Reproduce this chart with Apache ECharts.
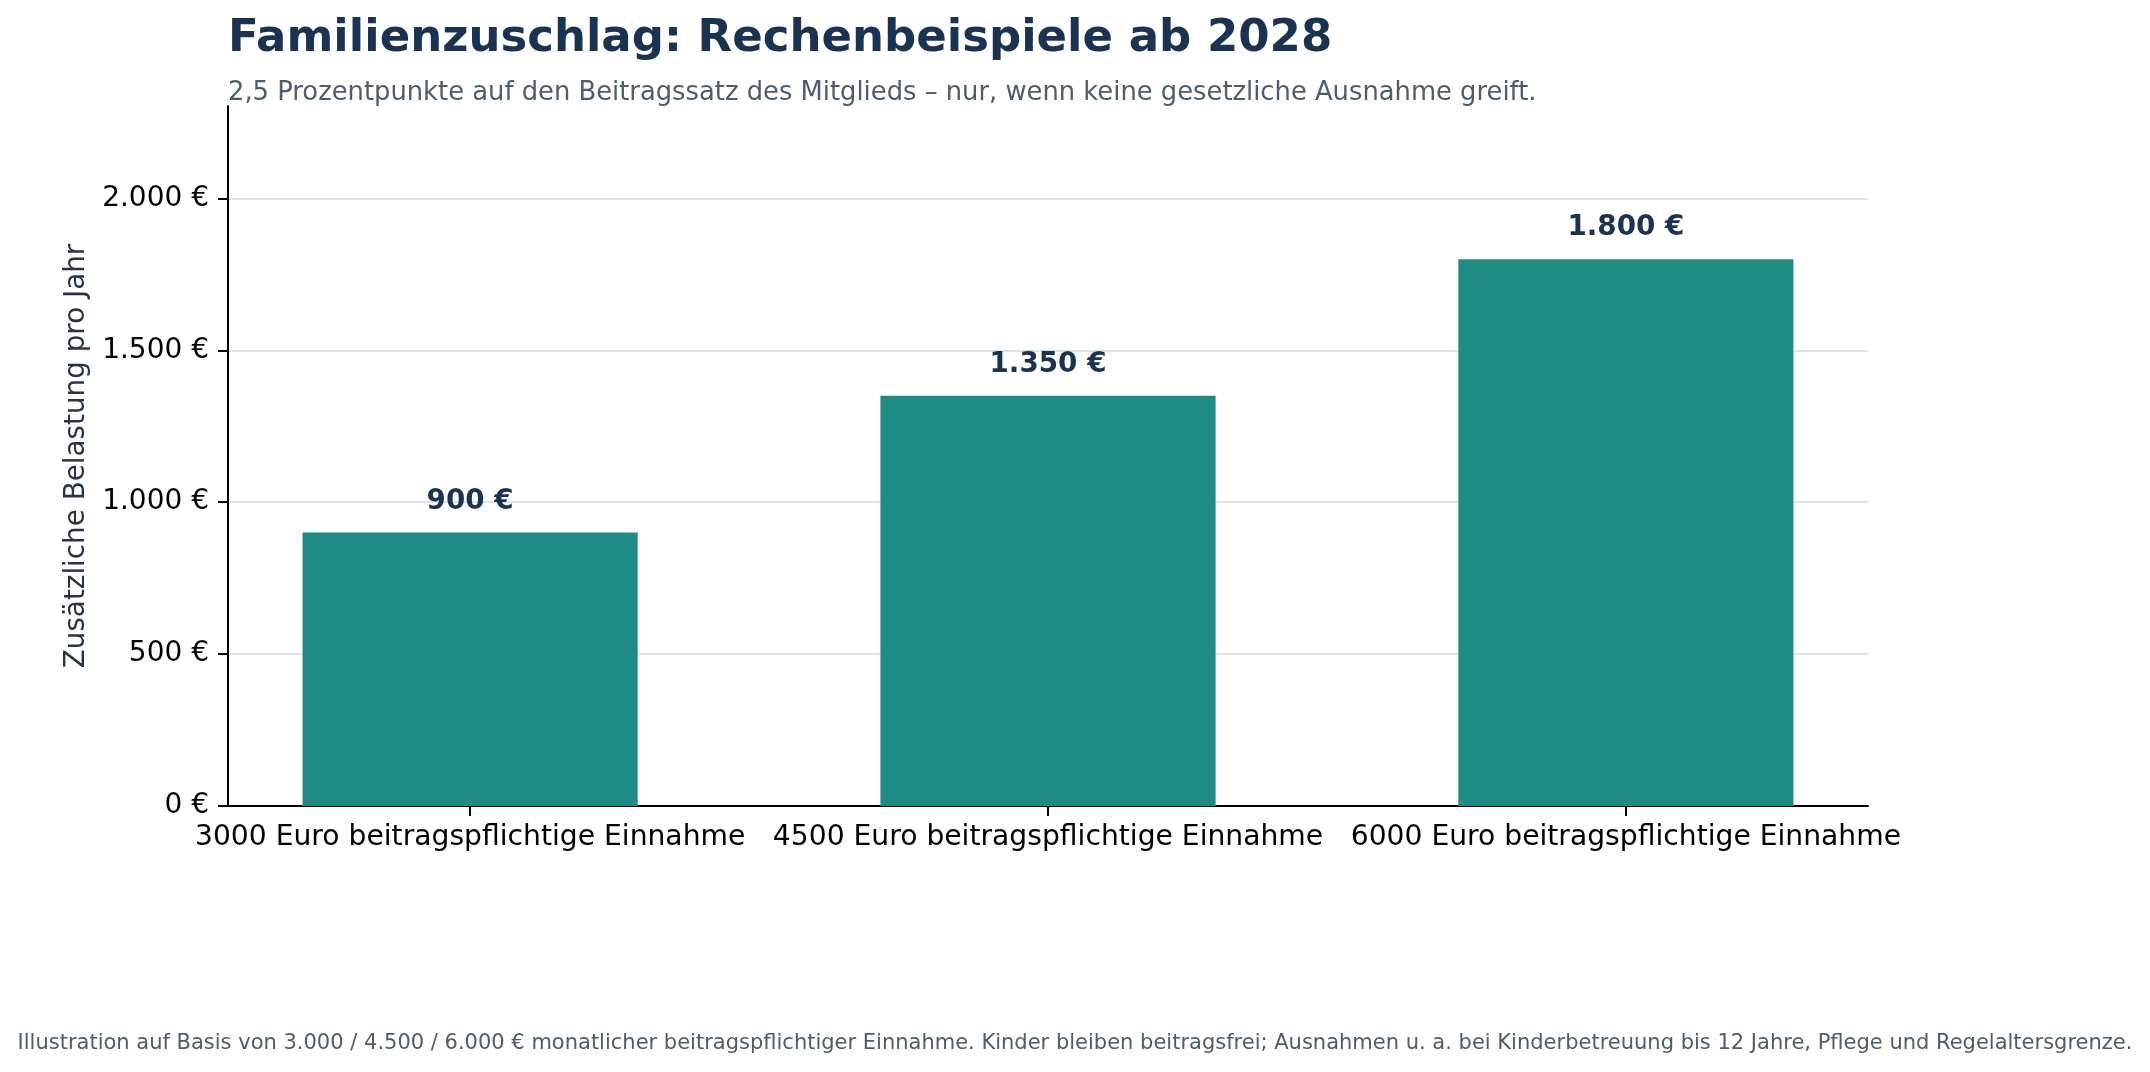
<!DOCTYPE html>
<html>
<head>
<meta charset="utf-8">
<script src="https://cdn.jsdelivr.net/npm/echarts@6/dist/echarts.min.js"></script>
<style>
html,body{margin:0;padding:0;background:#fff;}
#chart{width:2150px;height:1072px;}
</style>
</head>
<body>
<div id="chart"></div>
<script>
const categories = [
  "3000 Euro beitragspflichtige Einnahme",
  "4500 Euro beitragspflichtige Einnahme",
  "6000 Euro beitragspflichtige Einnahme"
];
const values = [900, 1350, 1800];
const yTicks = [0, 500, 1000, 1500, 2000];
const titleText = "Familienzuschlag: Rechenbeispiele ab 2028";
const subtitleText = "2,5 Prozentpunkte auf den Beitragssatz des Mitglieds \u2013 nur, wenn keine gesetzliche Ausnahme greift.";
const footerText = "Illustration auf Basis von 3.000 / 4.500 / 6.000 \u20ac monatlicher beitragspflichtiger Einnahme. Kinder bleiben beitragsfrei; Ausnahmen u. a. bei Kinderbetreuung bis 12 Jahre, Pflege und Regelaltersgrenze.";
const yAxisName = "Zus\u00e4tzliche Belastung pro Jahr";

const FONT = "DejaVu Sans";
const barFrac = 0.58;
const xMin = -0.419, xMax = categories.length - 1 + 0.419;
const yMax = 2304;
const gridLeft = 228, gridRight = 282, gridTop = 106, gridBottom = 266;
const W = 2150;
const plotW = W - gridLeft - gridRight;
const barW = plotW / (xMax - xMin) * barFrac;

function fmtEuro(v) {
  const s = Math.round(v).toString().replace(/\B(?=(\d{3})+(?!\d))/g, ".");
  return s + " \u20ac";
}

const chart = echarts.init(document.getElementById('chart'), null, {renderer: 'canvas'});
chart.setOption({
  backgroundColor: '#ffffff',
  animation: false,
  textStyle: {fontFamily: FONT},
  title: [
    {text: titleText, left: 223, top: 12,
     textStyle: {fontFamily: FONT, fontSize: 45, fontWeight: 'bold', color: '#1b3350'}},
    {text: subtitleText, left: 223, top: 75,
     textStyle: {fontFamily: FONT, fontSize: 25.8, fontWeight: 'normal', color: '#4d5d6b'}},
    {text: footerText, left: 'center', top: 1028,
     textStyle: {fontFamily: FONT, fontSize: 21, fontWeight: 'normal', color: '#4d5d6b'}}
  ],
  grid: {left: gridLeft, right: gridRight, top: gridTop, bottom: gridBottom, containLabel: false},
  xAxis: {
    type: 'value', min: xMin, max: xMax,
    axisLine: {show: true, onZero: false, lineStyle: {color: '#000', width: 2}},
    axisTick: {show: true, customValues: categories.map((c, i) => i), length: 10, lineStyle: {color: '#000', width: 2}},
    axisLabel: {show: true, customValues: categories.map((c, i) => i), margin: 18,
      formatter: v => categories[Math.round(v)] || '',
      fontFamily: FONT, fontSize: 28.2, color: '#000'},
    splitLine: {show: false}
  },
  yAxis: {
    type: 'value', min: 0, max: yMax, interval: 500,
    name: yAxisName, nameLocation: 'middle', nameGap: 133, nameRotate: 90,
    nameTextStyle: {fontFamily: FONT, fontSize: 27.8, color: '#263446'},
    axisLine: {show: true, onZero: false, lineStyle: {color: '#000', width: 2}},
    axisTick: {show: true, customValues: yTicks, length: 10, lineStyle: {color: '#000', width: 2}},
    axisLabel: {show: true, customValues: yTicks, margin: 19, formatter: v => fmtEuro(v),
      padding: [10, 0, 0, 0],
      fontFamily: FONT, fontSize: 28, color: '#000'},
    splitLine: {show: true, showMinLine: false, showMaxLine: true, lineStyle: {color: '#d0dddd', width: 1.6}}
  },
  series: [{
    type: 'bar',
    data: values.map((v, i) => [i, v]),
    barWidth: barW,
    itemStyle: {color: '#1e8c84'},
    label: {show: true, position: 'top', distance: 17, formatter: p => fmtEuro(p.value[1]),
      fontFamily: FONT, fontSize: 27.8, fontWeight: 'bold', color: '#1b3350'}
  }]
});
</script>
</body>
</html>
